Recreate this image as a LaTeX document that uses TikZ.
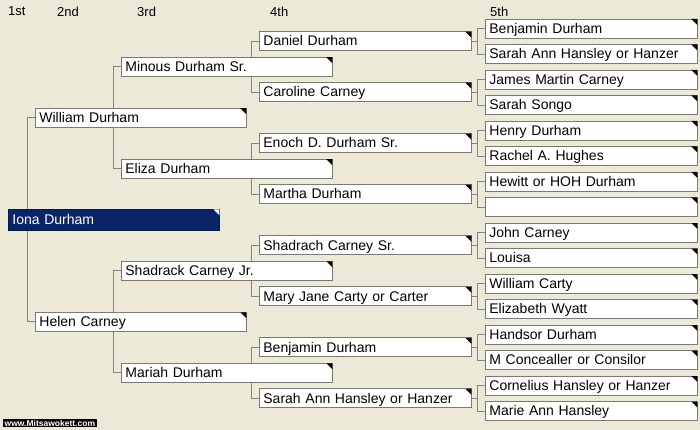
\documentclass[tikz,border=0pt]{standalone}
\usepackage{fontspec}
\setmainfont{Liberation Sans}
\definecolor{bgc}{HTML}{ECE9D8}
\definecolor{linec}{HTML}{85857C}
\definecolor{borderc}{HTML}{7A7A72}
\definecolor{navy}{HTML}{0A246A}
\pgfdeclarelayer{bglayer}
\pgfdeclarelayer{lines}
\pgfsetlayers{bglayer,lines,main}
\tikzset{
  box/.style={draw=borderc, line width=0.8pt, fill=white, anchor=west,
    minimum height=19pt, text width=204pt, inner xsep=4pt, inner ysep=0pt,
    text height=11pt, text depth=1.5pt, align=left,
    font=\fontsize{14}{16}\selectfont},
  selbox/.style={box, fill=navy, draw=navy!70!black, text=white, minimum height=21pt, text width=203pt},
  tri/.style={fill=black},
  conn/.style={draw=linec, line width=0.8pt},
  hdr/.style={anchor=west, inner sep=0pt, font=\fontsize{13}{15}\selectfont}
}
\newcommand{\cornermark}[2][tri]{\fill[#1] (#2.north east) ++(-0.4,0.4) -- ++(-6,0) -- ++(6,6) -- cycle;}
\begin{document}
\begin{tikzpicture}[x=1pt,y=-1pt]
\begin{pgfonlayer}{bglayer}
\fill[bgc] (0,0) rectangle (700,430);
\end{pgfonlayer}
\useasboundingbox (0,0) rectangle (700,430);
% headers
\node[hdr] (h1) at (8,11.5) {1st};
\node[hdr] (h2) at (57,11.5) {2nd};
\node[hdr] (h3) at (137,11.5) {3rd};
\node[hdr] (h4) at (270,11.5) {4th};
\node[hdr] (h5) at (490,11.5) {5th};
% generation 5
\foreach \i/\t in {0/Benjamin Durham, 1/Sarah Ann Hansley or Hanzer, 2/James Martin Carney, 3/Sarah Songo,
  4/Henry Durham, 5/Rachel A. Hughes, 6/Hewitt or HOH Durham, 7/{},
  8/John Carney, 9/Louisa, 10/William Carty, 11/Elizabeth Wyatt,
  12/Handsor Durham, 13/M Concealler or Consilor, 14/Cornelius Hansley or Hanzer, 15/Marie Ann Hansley}
  {\node[box] (g5-\i) at (485,{28.5+25.5*\i}) {\t};
   \cornermark{g5-\i}}
% generation 4
\foreach \i/\t in {0/Daniel Durham, 1/Caroline Carney, 2/Enoch D. Durham Sr., 3/Martha Durham,
  4/Shadrach Carney Sr., 5/Mary Jane Carty or Carter, 6/Benjamin Durham, 7/Sarah Ann Hansley or Hanzer}
  {\node[box] (g4-\i) at (259,{41.25+51*\i}) {\t};
   \cornermark{g4-\i}}
% generation 3
\foreach \i/\t in {0/Minous Durham Sr., 1/Eliza Durham, 2/Shadrack Carney Jr., 3/Mariah Durham}
  {\node[box, text width=203pt] (g3-\i) at (121,{66.75+102*\i}) {\t};
   \cornermark{g3-\i}}
% generation 2
\foreach \i/\t in {0/William Durham, 1/Helen Carney}
  {\node[box, text width=203pt] (g2-\i) at (35,{117.75+204*\i}) {\t};
   \cornermark{g2-\i}}
% generation 1
\node[selbox] (g1-0) at (8,219.75) {Iona Durham};
\cornermark[fill=white]{g1-0}
% connectors
\begin{pgfonlayer}{lines}
\foreach \g/\c/\n in {1/2/0, 2/3/1, 3/4/3, 4/5/7}{
  \foreach \j in {0,...,\n}{
    \pgfmathtruncatemacro\ca{2*\j}
    \pgfmathtruncatemacro\cb{2*\j+1}
    \draw[conn] (g\c-\ca.west) -- ++(-8,0) |- (g\c-\cb.west);
  }
}
\foreach \j in {0,...,7}{
  \draw[conn] (g4-\j.east) -- ++(6,0);
}
\end{pgfonlayer}
% watermark
\node[anchor=west, fill=black, text=white, inner xsep=1.5pt, inner ysep=0.5pt,
  font=\bfseries\fontsize{8.5}{9}\selectfont] (wm) at (3,423) {www.Mitsawokett.com};
\end{tikzpicture}
\end{document}
